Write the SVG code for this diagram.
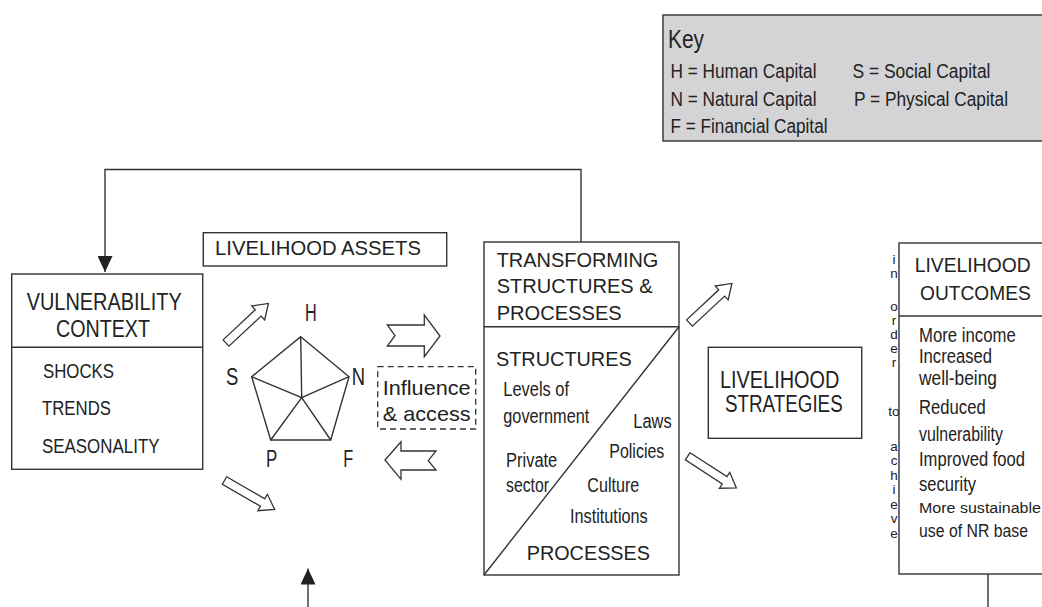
<svg xmlns="http://www.w3.org/2000/svg" xmlns:xlink="http://www.w3.org/1999/xlink" width="1042" height="607" viewBox="0 0 1042 607">
<style>
text{font-family:"Liberation Sans",Arial,sans-serif;fill:#222}
.box{fill:#fff;stroke:#333;stroke-width:1.4}
.ln{fill:none;stroke:#333;stroke-width:1.4}
.blk{fill:#fff;stroke:#333;stroke-width:1.3;stroke-linejoin:miter}
.t22{font-size:23px}
.t21{font-size:21px}
.t20{font-size:20.5px}
.t19{font-size:19.5px}
.t18{font-size:19.5px}
.vt{font-size:13.5px;writing-mode:vertical-rl;text-orientation:upright;letter-spacing:-1px}
.vh{font-size:13.5px;text-anchor:middle}
</style>
<defs>
<marker id="ah" markerUnits="userSpaceOnUse" markerWidth="16" markerHeight="15" refX="16" refY="7.5" orient="auto">
<path d="M0,0 L16,7.5 L0,15 Z" fill="#222"/>
</marker>
<path id="dblk" class="blk" d="M0,-4.3 L44,-4.3 L44,-9.5 L58,0 L44,9.5 L44,4.3 L0,4.3 Z"/>
</defs>
<rect width="1042" height="607" fill="#fff"/>

<g id="key">
<rect x="663" y="15" width="400" height="126" fill="#d4d4d6" stroke="#333" stroke-width="1.4"/>
<text x="668" y="48" style="font-size:26px" textLength="36" lengthAdjust="spacingAndGlyphs">Key</text>
<text x="670.5" y="78" class="t19" textLength="146" lengthAdjust="spacingAndGlyphs">H = Human Capital</text>
<text x="852.5" y="78" class="t19" textLength="138" lengthAdjust="spacingAndGlyphs">S = Social Capital</text>
<text x="670.5" y="105.5" class="t19" textLength="146" lengthAdjust="spacingAndGlyphs">N = Natural Capital</text>
<text x="854" y="105.5" class="t19" textLength="154" lengthAdjust="spacingAndGlyphs">P = Physical Capital</text>
<text x="670.5" y="132.5" class="t19" textLength="157" lengthAdjust="spacingAndGlyphs">F = Financial Capital</text>
</g>

<g id="connectors">
<path class="ln" d="M581,242 V169.5 H105 V272" marker-end="url(#ah)"/>
<path class="ln" d="M308,607 V568.5" marker-end="url(#ah)"/>
<path class="ln" d="M988,574 V607"/>
<use xlink:href="#dblk" transform="translate(226,343) rotate(-43)"/>
<use xlink:href="#dblk" transform="translate(224.5,480.5) rotate(30)"/>
<use xlink:href="#dblk" transform="translate(689.5,323) rotate(-43)"/>
<use xlink:href="#dblk" transform="translate(687.7,456.3) rotate(33)"/>
<polygon class="blk" points="387.3,325 424.3,325 424.3,315 440,336 424.3,356.7 424.3,346 387.3,346 395,335.7"/>
<polygon class="blk" points="385,460 401,441.7 401,451 436,451 428.3,460.7 436,470 401,470 401,479.3"/>
</g>

<g id="vulnerability">
<rect class="box" x="11.7" y="274" width="191" height="195.3"/>
<line class="ln" x1="11.7" y1="347.3" x2="202.7" y2="347.3"/>
<text x="26.7" y="310" class="t22" textLength="155" lengthAdjust="spacingAndGlyphs">VULNERABILITY</text>
<text x="56" y="336.7" class="t22" textLength="94" lengthAdjust="spacingAndGlyphs">CONTEXT</text>
<text x="43" y="378.3" class="t19" textLength="71" lengthAdjust="spacingAndGlyphs">SHOCKS</text>
<text x="42" y="415" class="t19" textLength="69" lengthAdjust="spacingAndGlyphs">TRENDS</text>
<text x="42" y="452.7" class="t19" textLength="117.5" lengthAdjust="spacingAndGlyphs">SEASONALITY</text>
</g>

<g id="assets-title">
<rect class="box" x="203.3" y="232.7" width="243.4" height="33.3"/>
<text x="215" y="255" class="t20" textLength="206" lengthAdjust="spacingAndGlyphs">LIVELIHOOD ASSETS</text>
</g>

<g id="pentagon">
<polygon class="ln" points="300.7,336.7 349,376.7 330.7,440 270.7,440 251.7,376.7"/>
<path class="ln" d="M301.7,397.7 L300.7,336.7 M301.7,397.7 L349,376.7 M301.7,397.7 L330.7,440 M301.7,397.7 L270.7,440 M301.7,397.7 L251.7,376.7"/>
<text x="305" y="320.7" class="t22" textLength="11.7" lengthAdjust="spacingAndGlyphs">H</text>
<text x="226" y="385" class="t22" textLength="12.3" lengthAdjust="spacingAndGlyphs">S</text>
<text x="351.7" y="385" class="t22" textLength="13.3" lengthAdjust="spacingAndGlyphs">N</text>
<text x="266" y="466.7" class="t22" textLength="11.3" lengthAdjust="spacingAndGlyphs">P</text>
<text x="343.3" y="466.7" class="t22" textLength="10" lengthAdjust="spacingAndGlyphs">F</text>
</g>

<g id="influence">
<rect x="377.7" y="366.7" width="98" height="62.3" fill="#fff" stroke="#333" stroke-width="1.3" stroke-dasharray="6,4"/>
<text x="382.7" y="395" style="font-size:21px" textLength="88" lengthAdjust="spacingAndGlyphs">Influence</text>
<text x="382.7" y="421" style="font-size:21px" textLength="88" lengthAdjust="spacingAndGlyphs">&amp; access</text>
</g>

<g id="transforming">
<rect class="box" x="484" y="242" width="195" height="333"/>
<line class="ln" x1="484" y1="326.7" x2="679" y2="326.7"/>
<line class="ln" x1="484" y1="575" x2="679" y2="326.7"/>
<text x="496.7" y="266.7" class="t20" textLength="161.7" lengthAdjust="spacingAndGlyphs">TRANSFORMING</text>
<text x="496.7" y="293.3" class="t20" textLength="156" lengthAdjust="spacingAndGlyphs">STRUCTURES &amp;</text>
<text x="496.7" y="320.3" class="t20" textLength="125" lengthAdjust="spacingAndGlyphs">PROCESSES</text>
<text x="496" y="366" class="t20" textLength="135.7" lengthAdjust="spacingAndGlyphs">STRUCTURES</text>
<text x="503.3" y="396" class="t18" textLength="65.7" lengthAdjust="spacingAndGlyphs">Levels of</text>
<text x="503.3" y="423" class="t18" textLength="86" lengthAdjust="spacingAndGlyphs">government</text>
<text x="633.3" y="428.3" class="t18" textLength="38.3" lengthAdjust="spacingAndGlyphs">Laws</text>
<text x="609.3" y="458.3" class="t18" textLength="55" lengthAdjust="spacingAndGlyphs">Policies</text>
<text x="506" y="466.7" class="t18" textLength="51.3" lengthAdjust="spacingAndGlyphs">Private</text>
<text x="506" y="491.7" class="t18" textLength="43" lengthAdjust="spacingAndGlyphs">sector</text>
<text x="587.3" y="491.7" class="t18" textLength="52" lengthAdjust="spacingAndGlyphs">Culture</text>
<text x="570" y="523.3" class="t18" textLength="77.7" lengthAdjust="spacingAndGlyphs">Institutions</text>
<text x="526.7" y="560" class="t20" textLength="123.3" lengthAdjust="spacingAndGlyphs">PROCESSES</text>
</g>

<g id="strategies">
<rect class="box" x="708.3" y="347.3" width="153.4" height="91"/>
<text x="720" y="387.7" class="t22" textLength="119.3" lengthAdjust="spacingAndGlyphs">LIVELIHOOD</text>
<text x="725" y="411.7" class="t22" textLength="117.7" lengthAdjust="spacingAndGlyphs">STRATEGIES</text>
</g>

<g id="in-order-to-achieve">
<text class="vt" x="894" y="252">in</text>
<text class="vt" x="894" y="299">order</text>
<text class="vh" x="894" y="416">to</text>
<text class="vt" x="894" y="438.5" style="letter-spacing:-0.5px">achieve</text>
</g>

<g id="outcomes">
<rect class="box" x="899" y="243" width="160" height="331"/>
<line class="ln" x1="899" y1="316" x2="1050" y2="316"/>
<text x="914.7" y="271.7" class="t21" textLength="116" lengthAdjust="spacingAndGlyphs">LIVELIHOOD</text>
<text x="920" y="300" class="t21" textLength="110.7" lengthAdjust="spacingAndGlyphs">OUTCOMES</text>
<text x="919" y="342" class="t18" textLength="96.7" lengthAdjust="spacingAndGlyphs">More income</text>
<text x="919" y="363" class="t18" textLength="73" lengthAdjust="spacingAndGlyphs">Increased</text>
<text x="919" y="385" class="t18" textLength="78" lengthAdjust="spacingAndGlyphs">well-being</text>
<text x="919" y="414" class="t18" textLength="66.7" lengthAdjust="spacingAndGlyphs">Reduced</text>
<text x="919" y="441" class="t18" textLength="84" lengthAdjust="spacingAndGlyphs">vulnerability</text>
<text x="919" y="466" class="t18" textLength="106" lengthAdjust="spacingAndGlyphs">Improved food</text>
<text x="919" y="491" class="t18" textLength="57" lengthAdjust="spacingAndGlyphs">security</text>
<text x="919" y="513" style="font-size:15.5px" textLength="122" lengthAdjust="spacingAndGlyphs">More sustainable</text>
<text x="919" y="537" style="font-size:17.5px" textLength="109" lengthAdjust="spacingAndGlyphs">use of NR base</text>
</g>
</svg>
